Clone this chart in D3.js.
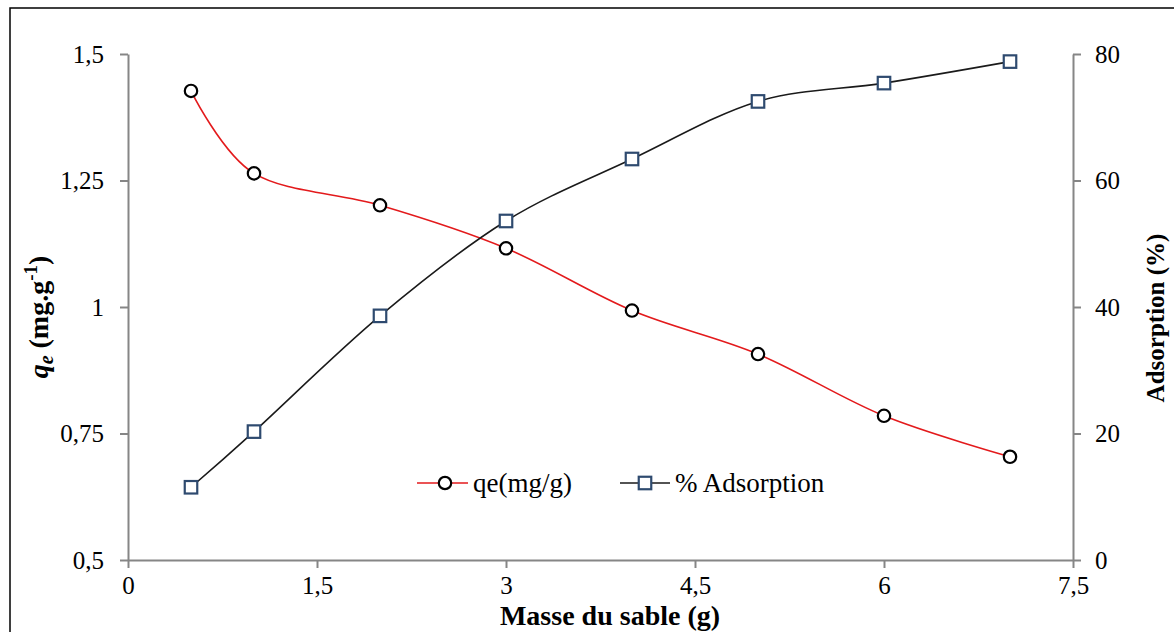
<!DOCTYPE html>
<html>
<head>
<meta charset="utf-8">
<script src="https://cdn.jsdelivr.net/npm/d3@7"></script>
<style>
  html, body { margin: 0; padding: 0; background: #fff; }
  svg { display: block; }
  svg text { font-family: "Liberation Serif", "Times New Roman", Tinos, "DejaVu Serif", serif !important; }
</style>
</head>
<body>
<svg id="chart" width="1174" height="632"></svg>
<script>
// Adsorbent mass (g)
const masses = [0.5, 1, 2, 3, 4, 5, 6, 7];
// Adsorbed quantity at equilibrium qe (mg/g)
const qeValues = [1.427, 1.264, 1.201, 1.116, 0.993, 0.907, 0.785, 0.704];
// Removal efficiency (%)
const adsorptionValues = [11.5, 20.3, 38.6, 53.6, 63.4, 72.5, 75.4, 78.8];

const xTicks = [0, 1.5, 3, 4.5, 6, 7.5];
const leftTicks = [0.5, 0.75, 1, 1.25, 1.5];
const rightTicks = [0, 20, 40, 60, 80];

const seriesNames = ["qe(mg/g)", "% Adsorption"];

const fmt = v => String(v).replace(".", ",");

const svg = d3.select("#chart");
const W = 1174, H = 632;
const plot = { left: 128, right: 1073, top: 54, bottom: 560 };

// Outer frame
svg.append("rect")
  .attr("x", 10).attr("y", 8)
  .attr("width", W + 20).attr("height", H + 20)
  .attr("fill", "none").attr("stroke", "#000").attr("stroke-width", 1.5);

const x = d3.scaleLinear().domain([0, 7.5]).range([plot.left, plot.right]);
const yL = d3.scaleLinear().domain([0.5, 1.5]).range([plot.bottom, plot.top]);
const yR = d3.scaleLinear().domain([0, 80]).range([plot.bottom, plot.top]);

const axisColor = "#868686";
function styleAxis(g) {
  g.attr("font-family", null);
  g.selectAll(".domain").attr("stroke", axisColor).attr("stroke-width", 2);
  g.selectAll(".tick line").attr("stroke", axisColor).attr("stroke-width", 2);
  g.selectAll(".tick text").attr("fill", "#000").attr("font-size", 25);
}

// Left axis (qe)
svg.append("g")
  .attr("transform", `translate(${plot.left},0)`)
  .call(d3.axisLeft(yL).tickValues(leftTicks).tickFormat(fmt).tickSize(8).tickSizeOuter(0).tickPadding(16))
  .call(styleAxis);

// Right axis (% adsorption)
svg.append("g")
  .attr("transform", `translate(${plot.right},0)`)
  .call(d3.axisRight(yR).tickValues(rightTicks).tickFormat(d3.format("d")).tickSize(8).tickSizeOuter(0).tickPadding(14))
  .call(styleAxis);

// Bottom axis (mass)
svg.append("g")
  .attr("transform", `translate(0,${plot.bottom})`)
  .call(d3.axisBottom(x).tickValues(xTicks).tickFormat(fmt).tickSize(8).tickSizeOuter(0).tickPadding(8))
  .call(styleAxis);

// Axis titles
svg.append("text")
  .attr("x", 610).attr("y", 625)
  .attr("text-anchor", "middle")
  .attr("font-size", 28).attr("font-weight", "bold")
  .text("Masse du sable (g)");

const lt = svg.append("text")
  .attr("transform", "translate(48,317) rotate(-90)")
  .attr("text-anchor", "middle")
  .attr("font-size", 28).attr("font-weight", "bold");
lt.append("tspan").attr("font-style", "italic").text("q");
lt.append("tspan").attr("font-style", "italic").attr("font-size", 20).attr("dy", 5).text("e");
lt.append("tspan").attr("dy", -5).text(" (mg.g");
lt.append("tspan").attr("font-size", 19).attr("dy", -11).text("-1");
lt.append("tspan").attr("dy", 11).text(")");

svg.append("text")
  .attr("transform", "translate(1164,318) rotate(-90)")
  .attr("text-anchor", "middle")
  .attr("font-size", 25).attr("font-weight", "bold")
  .text("Adsorption (%)");

// Series
const qeColor = "#e31a1c";
const adsColor = "#1a1a1a";
const markerStroke = "#2e4a6f";

const qeLine = d3.line()
  .x((d, i) => x(masses[i]))
  .y(d => yL(d))
  .curve(d3.curveCardinal.tension(0));

const adsLine = d3.line()
  .x((d, i) => x(masses[i]))
  .y(d => yR(d))
  .curve(d3.curveCardinal.tension(0));

svg.append("path").datum(qeValues)
  .attr("d", qeLine).attr("fill", "none")
  .attr("stroke", qeColor).attr("stroke-width", 1.6);

svg.append("path").datum(adsorptionValues)
  .attr("d", adsLine).attr("fill", "none")
  .attr("stroke", adsColor).attr("stroke-width", 1.6);

svg.append("g").selectAll("circle").data(qeValues).join("circle")
  .attr("cx", (d, i) => x(masses[i]))
  .attr("cy", d => yL(d))
  .attr("r", 6.2)
  .attr("fill", "#fff").attr("stroke", "#000").attr("stroke-width", 2.2);

const sq = 12.5;
svg.append("g").selectAll("rect").data(adsorptionValues).join("rect")
  .attr("x", (d, i) => x(masses[i]) - sq / 2)
  .attr("y", d => yR(d) - sq / 2)
  .attr("width", sq).attr("height", sq)
  .attr("fill", "#fff").attr("stroke", markerStroke).attr("stroke-width", 2.2);

// Legend
const legendY = 483;
const lg = svg.append("g");
lg.append("line").attr("x1", 417).attr("x2", 468).attr("y1", legendY).attr("y2", legendY)
  .attr("stroke", qeColor).attr("stroke-width", 1.6);
lg.append("circle").attr("cx", 445).attr("cy", legendY).attr("r", 6.2)
  .attr("fill", "#fff").attr("stroke", "#000").attr("stroke-width", 2.2);
lg.append("text").attr("x", 473).attr("y", legendY + 9)
  .attr("font-size", 27).text(seriesNames[0]);

lg.append("line").attr("x1", 620).attr("x2", 670).attr("y1", legendY).attr("y2", legendY)
  .attr("stroke", adsColor).attr("stroke-width", 1.6);
lg.append("rect").attr("x", 645 - sq / 2).attr("y", legendY - sq / 2)
  .attr("width", sq).attr("height", sq)
  .attr("fill", "#fff").attr("stroke", markerStroke).attr("stroke-width", 2.2);
lg.append("text").attr("x", 675).attr("y", legendY + 9)
  .attr("font-size", 27).text(seriesNames[1]);
</script>
</body>
</html>
